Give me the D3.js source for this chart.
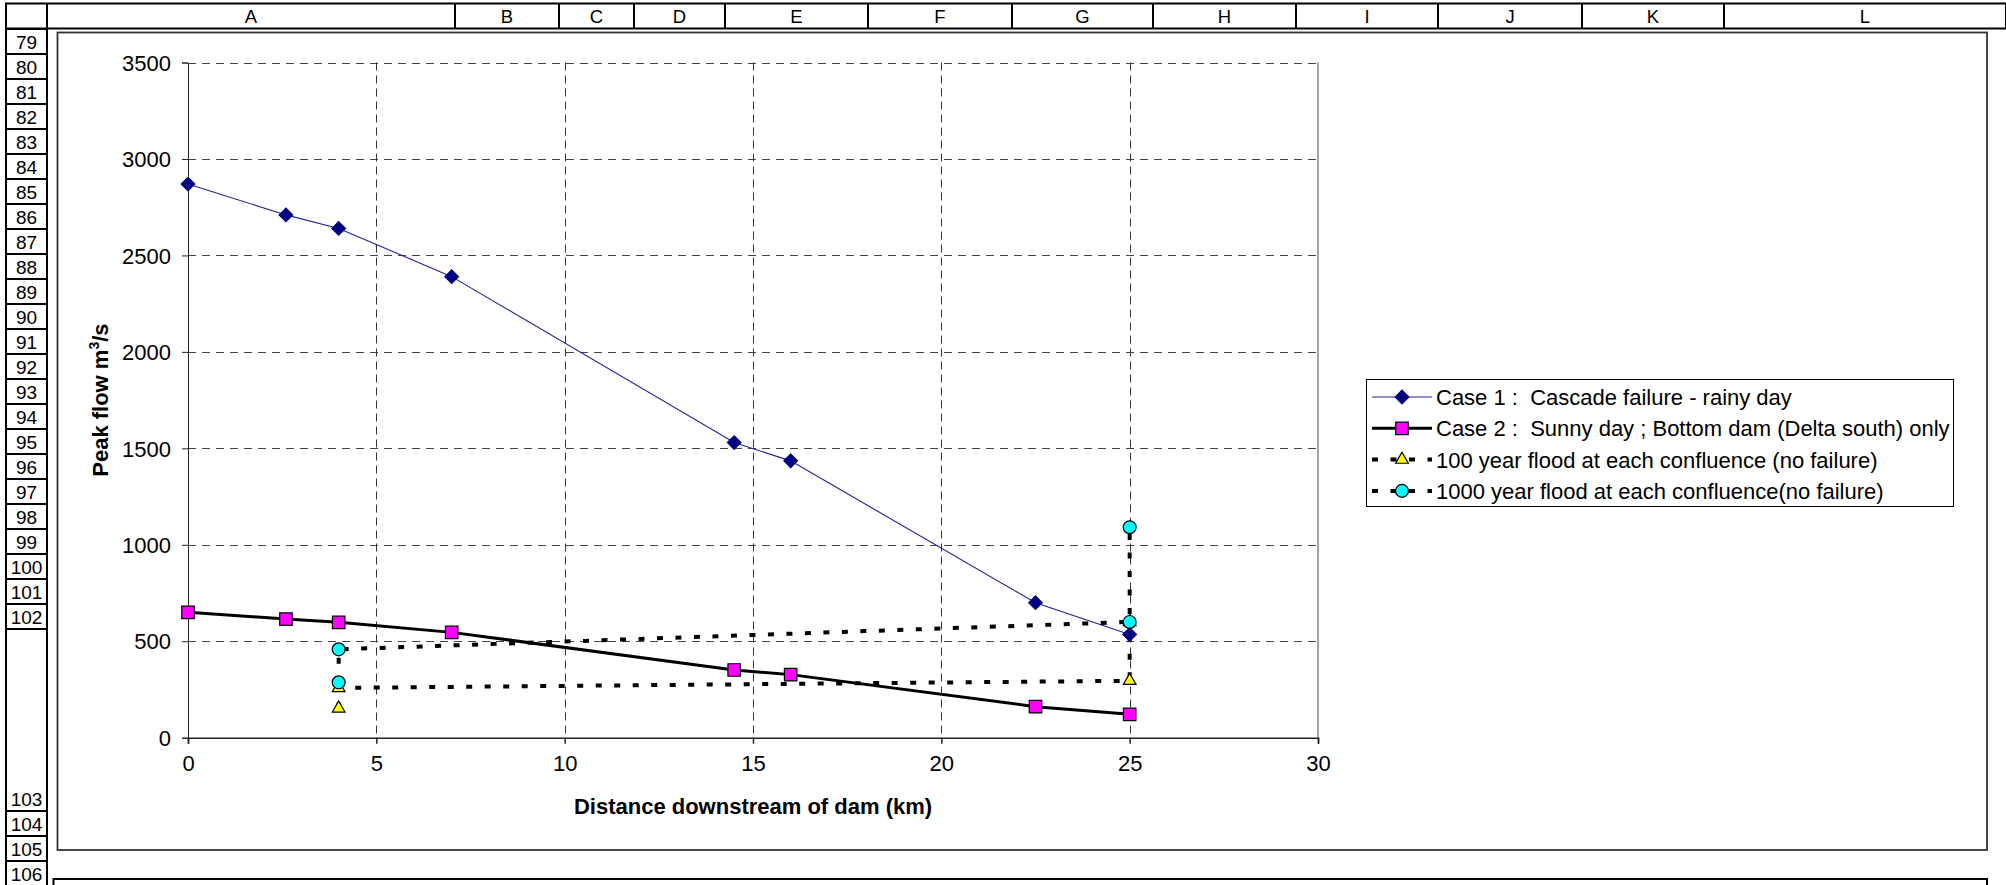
<!DOCTYPE html>
<html>
<head>
<meta charset="utf-8">
<script src="https://cdn.jsdelivr.net/npm/d3@7"></script>
<style>
  body { margin: 0; background: #fff; }
  svg { display: block; font-family: Arial, "Liberation Sans", sans-serif; }
</style>
</head>
<body>
<div id="container"></div>
<script>
/* CONSTANTS AND GLOBALS */
const width = 2006,
  height = 885;

// values
const distance = [0, 2.6, 4, 7, 14.5, 16, 22.5, 25];
const case1Flow = [2870, 2710, 2640, 2390, 1530, 1435, 700, 535];
const case2Flow = [650, 615, 598, 546, 351, 327, 161, 121];
const confluenceDist = [4, 4, 25, 25];
const flood100 = [152, 258, 295, 600];
const flood1000 = [287, 458, 600, 1091];

const xTicks = [0, 5, 10, 15, 20, 25, 30];
const yTicks = [0, 500, 1000, 1500, 2000, 2500, 3000, 3500];

const legendLabels = ["Case 1 :  Cascade failure - rainy day",
                      "Case 2 :  Sunny day ; Bottom dam (Delta south) only",
                      "100 year flood at each confluence (no failure)",
                      "1000 year flood at each confluence(no failure)"];

const columnNames = ["A", "B", "C", "D", "E", "F", "G", "H", "I", "J", "K", "L"];
const rowNumbers = [79, 80, 81, 82, 83, 84, 85, 86, 87, 88, 89, 90, 91, 92, 93,
                    94, 95, 96, 97, 98, 99, 100, 101, 102, 103, 104, 105, 106];

/* LAYOUT */
// spreadsheet grid
const colEdges = [47, 455, 559, 634, 725, 868, 1012, 1153, 1296, 1438, 1582, 1724, 2006];
const rowEdges = [29];
rowNumbers.forEach(r => rowEdges.push(rowEdges[rowEdges.length - 1] + (r === 103 ? 182 : 25)));

// plot area
const plot = {left: 188, right: 1318, top: 62.5, bottom: 737.7};

const series = [
  {label: legendLabels[0], x: distance, y: case1Flow, stroke: "#22229a", width: 1.1, dash: null, marker: "diamond"},
  {label: legendLabels[1], x: distance, y: case2Flow, stroke: "#000", width: 3, dash: null, marker: "square"},
  {label: legendLabels[2], x: confluenceDist, y: flood100, stroke: "#000", width: 4, dash: "6,12.5", marker: "triangle"},
  {label: legendLabels[3], x: confluenceDist, y: flood1000, stroke: "#000", width: 4, dash: "6,12.5", marker: "circle"},
];

const svg = d3.select("#container")
  .append("svg")
  .attr("width", width)
  .attr("height", height);

svg.append("rect").attr("width", width).attr("height", height).attr("fill", "#fff");

/* SHEET HEADERS */
const grid = svg.append("g").attr("stroke", "#000").attr("stroke-width", 2);
// column header row
grid.append("line").attr("x1", 5).attr("x2", width).attr("y1", 3.5).attr("y2", 3.5);
grid.append("line").attr("x1", 5).attr("x2", width).attr("y1", 28.5).attr("y2", 28.5);
colEdges.forEach(x => {
  grid.append("line").attr("x1", x).attr("x2", x).attr("y1", 3).attr("y2", 29);
});
columnNames.forEach((c, i) => {
  svg.append("text")
    .attr("x", (colEdges[i] + colEdges[i + 1]) / 2)
    .attr("y", 22.5)
    .attr("text-anchor", "middle")
    .style("font-size", "18.5px")
    .text(c);
});

// row header column
grid.append("line").attr("x1", 6).attr("x2", 6).attr("y1", 3).attr("y2", height);
grid.append("line").attr("x1", 47).attr("x2", 47).attr("y1", 3).attr("y2", height);
rowEdges.forEach(y => {
  grid.append("line").attr("x1", 5).attr("x2", 47).attr("y1", y).attr("y2", y);
});
rowNumbers.forEach((r, i) => {
  svg.append("text")
    .attr("x", 26.5)
    .attr("y", rowEdges[i + 1] - 5.5)
    .attr("text-anchor", "middle")
    .style("font-size", "19px")
    .text(r);
});

// chart object frame and the next chart below it
svg.append("rect")
  .attr("x", 57.5).attr("y", 32.5)
  .attr("width", 1987 - 57.5).attr("height", 850 - 32.5)
  .attr("fill", "none").attr("stroke", "#333").attr("stroke-width", 1.8);
svg.append("rect")
  .attr("x", 53.5).attr("y", 879)
  .attr("width", 1987 - 53.5).attr("height", 40)
  .attr("fill", "none").attr("stroke", "#000").attr("stroke-width", 2);

/* SCALES */
const xScale = d3.scaleLinear()
  .domain([0, 30])
  .range([plot.left, plot.right]);

const yScale = d3.scaleLinear()
  .domain([0, 3500])
  .range([plot.bottom, plot.top]);

// gridlines
svg.append("g")
  .selectAll("line")
  .data(yTicks.filter(d => d > 0))
  .join("line")
  .attr("x1", plot.left).attr("x2", plot.right)
  .attr("y1", d => Math.round(yScale(d)) + 0.5)
  .attr("y2", d => Math.round(yScale(d)) + 0.5)
  .attr("stroke", "#444")
  .attr("stroke-dasharray", "8,6");

svg.append("g")
  .selectAll("line")
  .data(xTicks.filter(d => d > 0 && d < 30))
  .join("line")
  .attr("x1", d => Math.round(xScale(d)) + 0.5)
  .attr("x2", d => Math.round(xScale(d)) + 0.5)
  .attr("y1", plot.top).attr("y2", plot.bottom)
  .attr("stroke", "#333")
  .attr("stroke-dasharray", "8,5");

// right edge of plot area
svg.append("line")
  .attr("x1", plot.right).attr("x2", plot.right)
  .attr("y1", plot.top).attr("y2", plot.bottom)
  .attr("stroke", "#888").attr("stroke-width", 1.5);

// axes
const yAxis = d3.axisLeft(yScale).tickValues(yTicks).tickFormat(d3.format("d")).tickSize(6).tickPadding(11);
svg.append("g")
  .attr("transform", `translate(${plot.left}, 0)`)
  .call(yAxis)
  .call(g => g.selectAll("text").style("font-size", "22px").attr("fill", "#000").attr("dy", "0.35em"))
  .call(g => g.selectAll("line, path").attr("stroke", "#222"));

const xAxis = d3.axisBottom(xScale).tickValues(xTicks).tickFormat(d3.format("d")).tickSize(6).tickPadding(12);
svg.append("g")
  .attr("transform", `translate(0, ${plot.bottom})`)
  .call(xAxis)
  .call(g => g.selectAll("text").style("font-size", "22px").attr("fill", "#000"))
  .call(g => g.selectAll("line, path").attr("stroke", "#222").attr("stroke-width", 1.5));

// axis titles
svg.append("text")
  .attr("x", (plot.left + plot.right) / 2)
  .attr("y", 814)
  .attr("text-anchor", "middle")
  .style("font-size", "22px")
  .style("font-weight", "bold")
  .text("Distance downstream of dam (km)");

const yTitle = svg.append("text")
  .attr("transform", `translate(108, ${(plot.top + plot.bottom) / 2}) rotate(-90)`)
  .attr("text-anchor", "middle")
  .style("font-size", "22px")
  .style("font-weight", "bold");
yTitle.append("tspan").text("Peak flow m");
yTitle.append("tspan").attr("dy", -9).style("font-size", "14px").text("3");
yTitle.append("tspan").attr("dy", 9).text("/s");

/* MARKS */
const markerShape = {
  diamond: {symbol: d3.symbolSquare, size: 92, rotate: 45, fill: "#000080", stroke: "#000080"},
  square: {symbol: d3.symbolSquare, size: 156, rotate: 0, fill: "#ff00ff", stroke: "#000"},
  triangle: {symbol: d3.symbolTriangle, size: 70, rotate: 0, fill: "#ffff00", stroke: "#000"},
  circle: {symbol: d3.symbolCircle, size: 130, rotate: 0, fill: "#00ffff", stroke: "#000"},
};

const drawMarker = (g, type, x, y) => {
  const m = markerShape[type];
  g.append("path")
    .attr("d", d3.symbol().type(m.symbol).size(m.size)())
    .attr("transform", `translate(${x}, ${y}) rotate(${m.rotate})`)
    .attr("fill", m.fill)
    .attr("stroke", m.stroke)
    .attr("stroke-width", 1.2);
};

const line = d3.line()
  .x(d => xScale(d[0]))
  .y(d => yScale(d[1]));

// lines first, then markers on top (as Excel does)
series.forEach(s => {
  const pts = s.x.map((d, i) => [d, s.y[i]]);
  svg.append("path")
    .attr("d", line(pts))
    .attr("fill", "none")
    .attr("stroke", s.stroke)
    .attr("stroke-width", s.width)
    .attr("stroke-dasharray", s.dash);
});

const markers = svg.append("g");
series.forEach(s => {
  s.x.forEach((d, i) => drawMarker(markers, s.marker, xScale(d), yScale(s.y[i])));
});

/* LEGEND */
const legend = svg.append("g");
legend.append("rect")
  .attr("x", 1366.5).attr("y", 379.5)
  .attr("width", 587).attr("height", 127)
  .attr("fill", "#fff").attr("stroke", "#000").attr("stroke-width", 1);

series.forEach((s, i) => {
  const ly = 397 + i * 31.3;
  legend.append("line")
    .attr("x1", 1372).attr("x2", 1432)
    .attr("y1", ly).attr("y2", ly)
    .attr("stroke", s.stroke)
    .attr("stroke-width", s.width)
    .attr("stroke-dasharray", s.dash);
  drawMarker(legend, s.marker, 1402, ly);
  legend.append("text")
    .attr("x", 1436)
    .attr("y", ly + 8)
    .style("font-size", "22px")
    .style("white-space", "pre")
    .text(s.label);
});
</script>
</body>
</html>
